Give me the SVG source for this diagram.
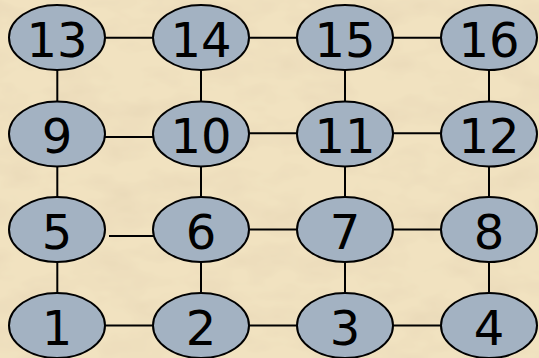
<svg xmlns="http://www.w3.org/2000/svg" width="539" height="358" viewBox="0 0 539 358">
<defs>
<filter id="parch" x="0" y="0" width="100%" height="100%">
<feTurbulence type="fractalNoise" baseFrequency="0.02 0.04" numOctaves="3" seed="7" result="n"/>
<feColorMatrix in="n" type="matrix" values="0 0 0 0 0.80  0 0 0 0 0.68  0 0 0 0 0.47  0 0 0 -1.4 0.85" result="c"/>
<feComposite in="c" in2="SourceGraphic" operator="over"/>
</filter>
</defs>
<style>
.n ellipse{fill:#a3b2c2;stroke:#000;stroke-width:2}
.n text{font-family:"DejaVu Sans",Verdana,sans-serif;font-size:48px;fill:#000;text-anchor:middle}
#edges line{stroke:#000;stroke-width:2}
</style>
<rect width="539" height="358" fill="#f1e2c0" filter="url(#parch)"/>
<g id="edges">
<line x1="105" y1="37.7" x2="153" y2="37.7"/>
<line x1="249" y1="37.7" x2="297" y2="37.7"/>
<line x1="393" y1="37.7" x2="441" y2="37.7"/>
<line x1="105" y1="137" x2="153" y2="137"/>
<line x1="249" y1="133.3" x2="297" y2="133.3"/>
<line x1="393" y1="133.3" x2="441" y2="133.3"/>
<line x1="109" y1="236" x2="157" y2="236"/>
<line x1="249" y1="229.5" x2="297" y2="229.5"/>
<line x1="393" y1="229.5" x2="441" y2="229.5"/>
<line x1="105" y1="325.5" x2="153" y2="325.5"/>
<line x1="249" y1="325.5" x2="297" y2="325.5"/>
<line x1="393" y1="325.5" x2="441" y2="325.5"/>
<line x1="57.3" y1="70" x2="57.3" y2="102"/>
<line x1="57.3" y1="166" x2="57.3" y2="198"/>
<line x1="57.3" y1="262" x2="57.3" y2="294"/>
<line x1="201" y1="70" x2="201" y2="102"/>
<line x1="201" y1="166" x2="201" y2="198"/>
<line x1="201" y1="262" x2="201" y2="294"/>
<line x1="345" y1="70" x2="345" y2="102"/>
<line x1="345" y1="166" x2="345" y2="198"/>
<line x1="345" y1="262" x2="345" y2="294"/>
<line x1="489" y1="70" x2="489" y2="102"/>
<line x1="489" y1="166" x2="489" y2="198"/>
<line x1="489" y1="262" x2="489" y2="294"/>
</g>
<g id="n13" class="n"><ellipse cx="57" cy="37.5" rx="48" ry="32.5"/><text x="57" y="56.5">13</text></g>
<g id="n14" class="n"><ellipse cx="201" cy="37.5" rx="48" ry="32.5"/><text x="201" y="56.5">14</text></g>
<g id="n15" class="n"><ellipse cx="345" cy="37.5" rx="48" ry="32.5"/><text x="345" y="56.5">15</text></g>
<g id="n16" class="n"><ellipse cx="489" cy="37.5" rx="48" ry="32.5"/><text x="489" y="56.5">16</text></g>
<g id="n9" class="n"><ellipse cx="57" cy="134" rx="48" ry="32.5"/><text x="57" y="153">9</text></g>
<g id="n10" class="n"><ellipse cx="201" cy="134" rx="48" ry="32.5"/><text x="201" y="153">10</text></g>
<g id="n11" class="n"><ellipse cx="345" cy="134" rx="48" ry="32.5"/><text x="345" y="153">11</text></g>
<g id="n12" class="n"><ellipse cx="489" cy="134" rx="48" ry="32.5"/><text x="489" y="153">12</text></g>
<g id="n5" class="n"><ellipse cx="57" cy="229.5" rx="48" ry="32.5"/><text x="57" y="248.5">5</text></g>
<g id="n6" class="n"><ellipse cx="201" cy="229.5" rx="48" ry="32.5"/><text x="201" y="248.5">6</text></g>
<g id="n7" class="n"><ellipse cx="345" cy="229.5" rx="48" ry="32.5"/><text x="345" y="248.5">7</text></g>
<g id="n8" class="n"><ellipse cx="489" cy="229.5" rx="48" ry="32.5"/><text x="489" y="248.5">8</text></g>
<g id="n1" class="n"><ellipse cx="57" cy="325.5" rx="48" ry="32.5"/><text x="57" y="344.5">1</text></g>
<g id="n2" class="n"><ellipse cx="201" cy="325.5" rx="48" ry="32.5"/><text x="201" y="344.5">2</text></g>
<g id="n3" class="n"><ellipse cx="345" cy="325.5" rx="48" ry="32.5"/><text x="345" y="344.5">3</text></g>
<g id="n4" class="n"><ellipse cx="489" cy="325.5" rx="48" ry="32.5"/><text x="489" y="344.5">4</text></g>
</svg>
